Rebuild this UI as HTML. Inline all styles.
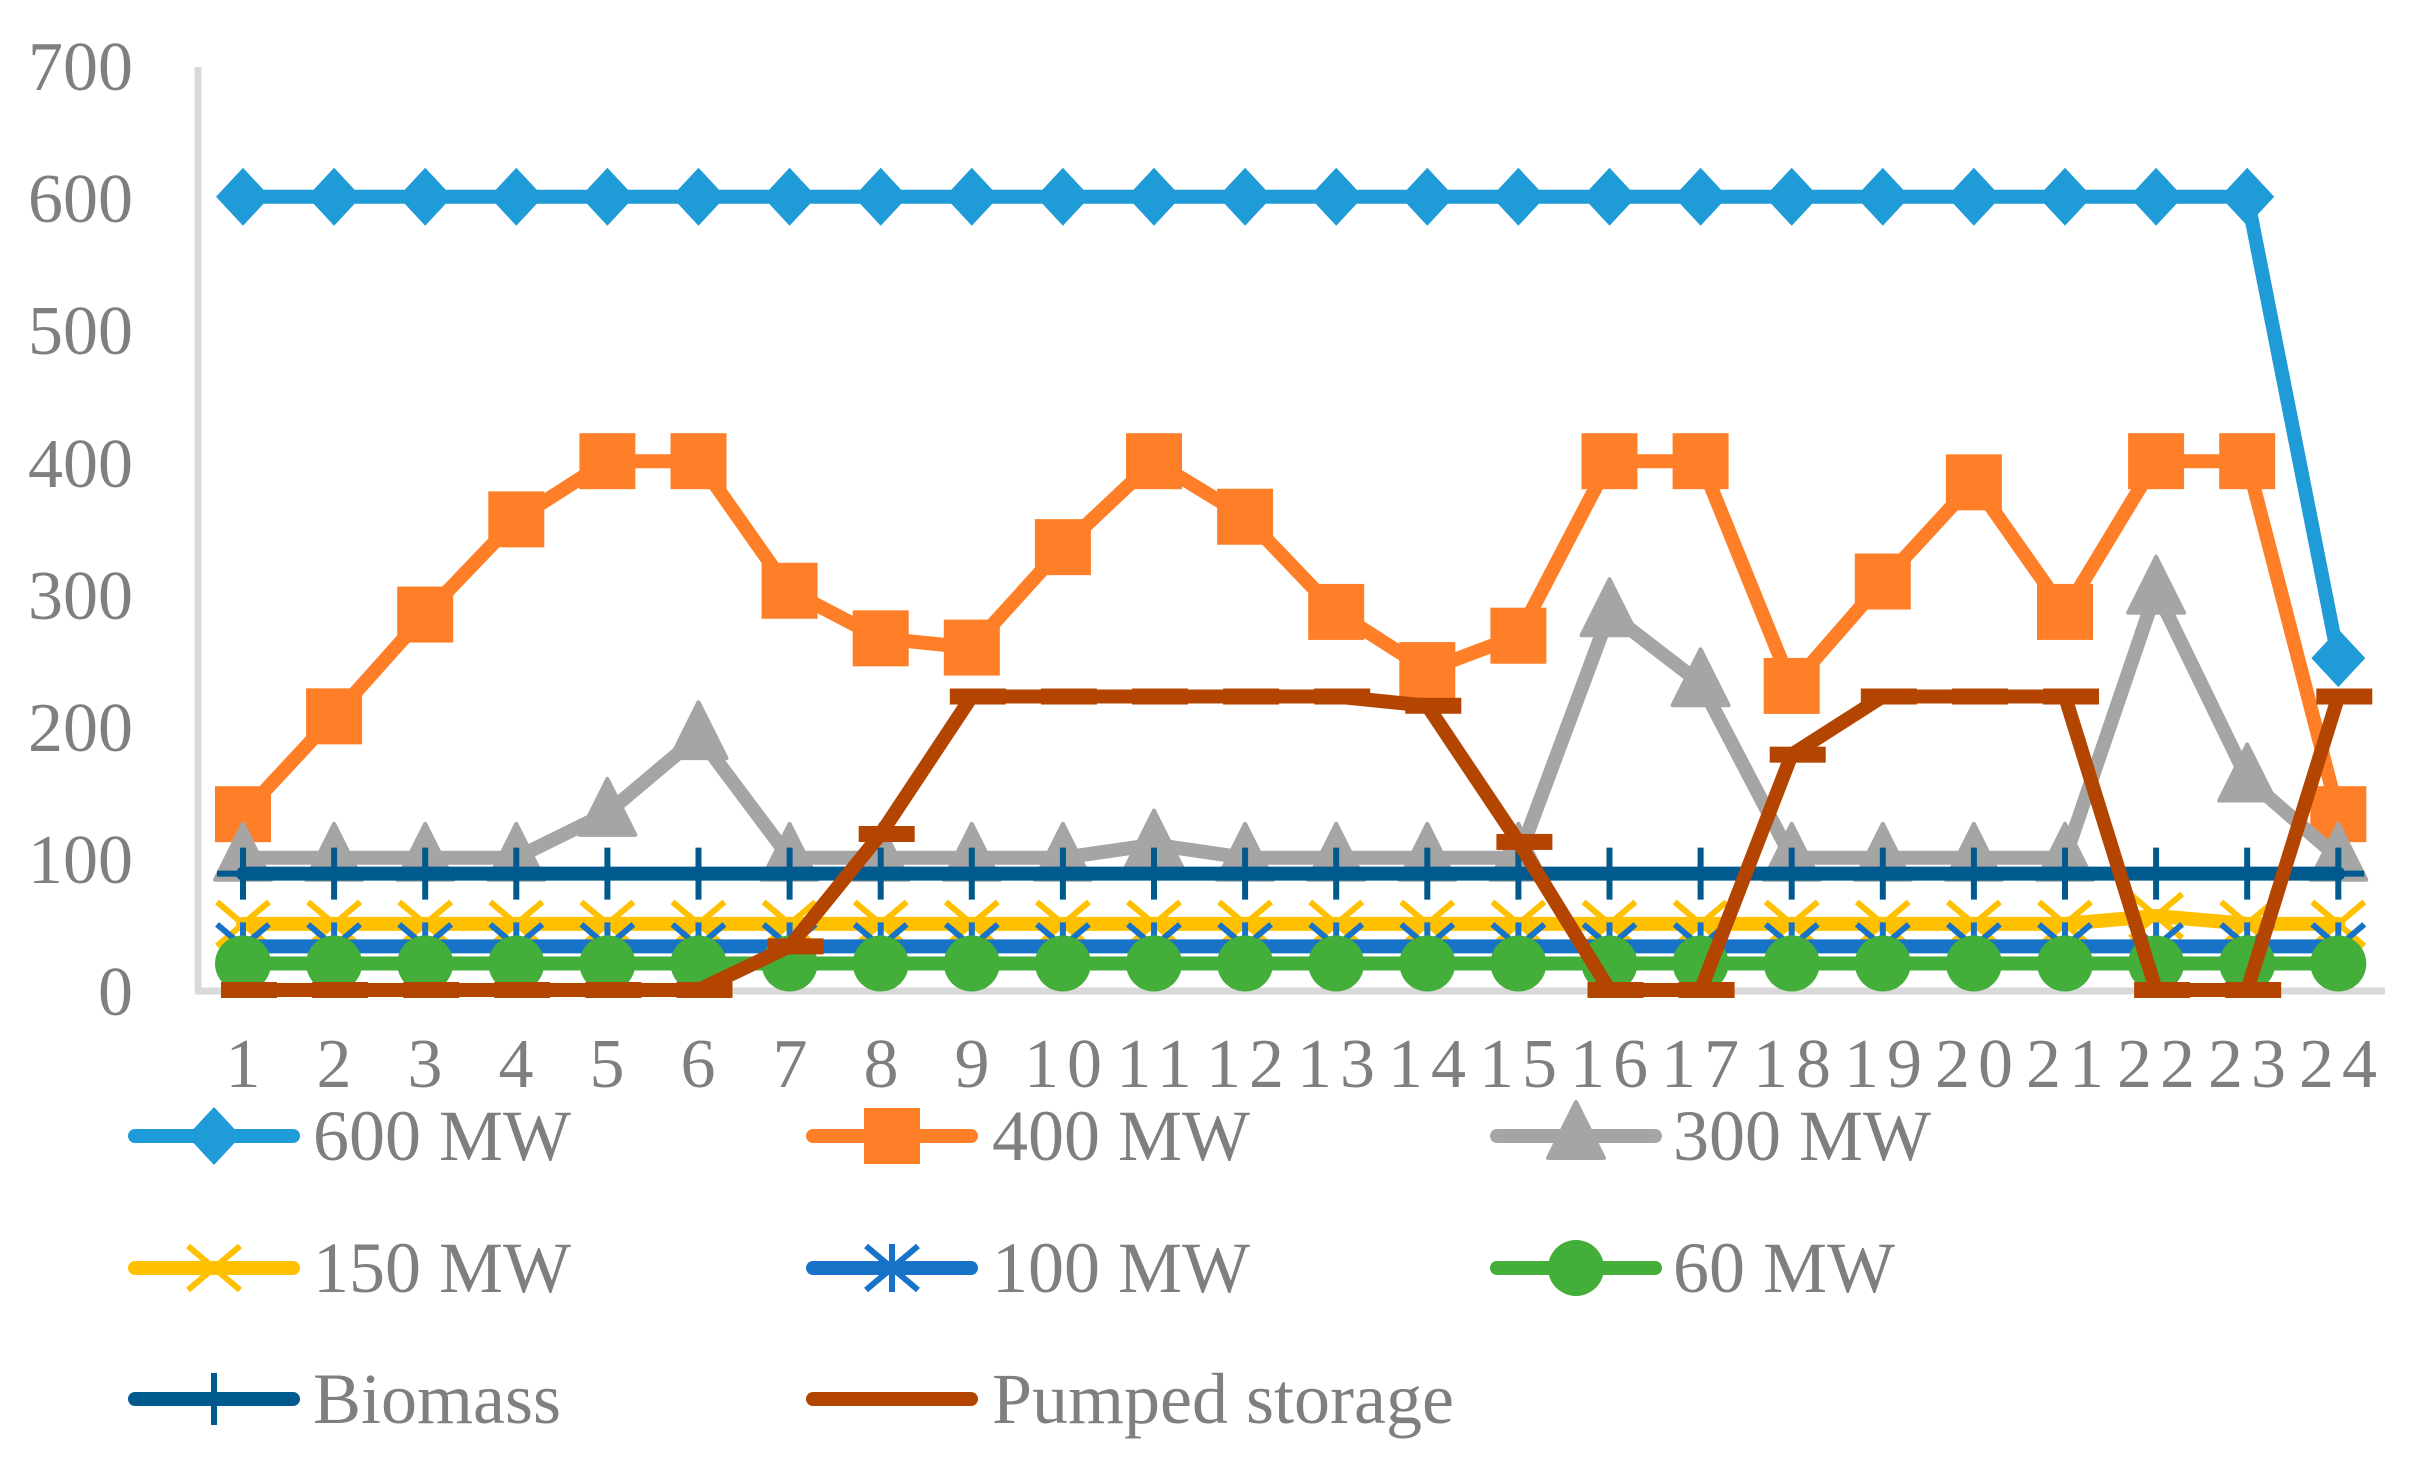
<!DOCTYPE html>
<html><head><meta charset="utf-8"><style>
html,body{margin:0;padding:0;background:#fff}
svg{display:block}
text{font-family:"Liberation Serif","Times New Roman","DejaVu Serif",serif;fill:#7F7F7F}
</style></head><body>
<svg id="c" width="2418" height="1459" xmlns="http://www.w3.org/2000/svg">
<line x1="198" y1="67" x2="198" y2="991" stroke="#D9D9D9" stroke-width="7"/>
<line x1="195" y1="991" x2="2385" y2="991" stroke="#D9D9D9" stroke-width="7"/>
<g font-size="70" text-anchor="end" font-family="Liberation Serif, serif" fill="#7F7F7F">
<text x="133" y="90">700</text><text x="133" y="222">600</text><text x="133" y="354">500</text>
<text x="133" y="487">400</text><text x="133" y="619">300</text><text x="133" y="751">200</text>
<text x="133" y="883">100</text><text x="133" y="1015">0</text>
</g>
<g id="xl" font-size="70" text-anchor="middle" letter-spacing="8" font-family="Liberation Serif, serif" fill="#7F7F7F">
<text x="247" y="1087">1</text><text x="338" y="1087">2</text><text x="429" y="1087">3</text><text x="520" y="1087">4</text>
<text x="611" y="1087">5</text><text x="702" y="1087">6</text><text x="794" y="1087">7</text><text x="885" y="1087">8</text>
<text x="976" y="1087">9</text><text x="1067" y="1087">10</text><text x="1158" y="1087">11</text><text x="1249" y="1087">12</text>
<text x="1340" y="1087">13</text><text x="1431" y="1087">14</text><text x="1522" y="1087">15</text><text x="1613" y="1087">16</text>
<text x="1704" y="1087">17</text><text x="1796" y="1087">18</text><text x="1887" y="1087">19</text><text x="1978" y="1087">20</text>
<text x="2069" y="1087">21</text><text x="2160" y="1087">22</text><text x="2251" y="1087">23</text><text x="2342" y="1087">24</text>
</g>
<g id="series"></g>
<g font-size="72" font-family="Liberation Serif, serif" fill="#7F7F7F">
<text x="313" y="1160">600 MW</text><text x="992" y="1160">400 MW</text><text x="1673" y="1160">300 MW</text>
<text x="313" y="1292">150 MW</text><text x="992" y="1292">100 MW</text><text x="1673" y="1292">60 MW</text>
<text x="313" y="1423">Biomass</text><text x="992" y="1423">Pumped storage</text>
</g>
<g id="leg"></g>
</svg>
<script>
var NS="http://www.w3.org/2000/svg";
function X(i){return 243+i*91.1}
function Y(v){return 990-v*1.322}
function el(p,t,a){var e=document.createElementNS(NS,t);for(var k in a)e.setAttribute(k,a[k]);p.appendChild(e);return e}
function marker(g,type,x,y,c){
 if(type=='d')el(g,'polygon',{points:(x-27)+','+y+' '+x+','+(y-29)+' '+(x+27)+','+y+' '+x+','+(y+29),fill:c});
 else if(type=='s')el(g,'rect',{x:x-28,y:y-28,width:56,height:56,fill:c});
 else if(type=='t')el(g,'polygon',{points:(x-28)+','+(y+22)+' '+x+','+(y-34)+' '+(x+28)+','+(y+22),fill:c,'stroke':c,'stroke-width':4,'stroke-linejoin':'round'});
 else if(type=='x'){el(g,'path',{d:'M'+(x-26)+' '+(y-22)+'L'+(x+26)+' '+(y+22)+'M'+(x+26)+' '+(y-22)+'L'+(x-26)+' '+(y+22),stroke:c,'stroke-width':6,fill:'none'});}
 else if(type=='*'){el(g,'path',{d:'M'+(x-26)+' '+(y-22)+'L'+(x+26)+' '+(y+22)+'M'+(x+26)+' '+(y-22)+'L'+(x-26)+' '+(y+22)+'M'+x+' '+(y-24)+'L'+x+' '+(y+24),stroke:c,'stroke-width':6,fill:'none'});}
 else if(type=='o')el(g,'ellipse',{cx:x,cy:y,rx:28,ry:28,fill:c});
 else if(type=='+')el(g,'path',{d:'M'+x+' '+(y-26)+'L'+x+' '+(y+26)+'M'+(x-26)+' '+y+'L'+(x+26)+' '+y,stroke:c,'stroke-width':6});
 else if(type=='-')el(g,'rect',{x:x-22,y:y-8,width:56,height:16,fill:c});
}
var S=[
 ['#1F9BD7','d',[600,600,600,600,600,600,600,600,600,600,600,600,600,600,600,600,600,600,600,600,600,600,600,251]],
 ['#FE7F27','s',[133,207,284,356,400,400,302,266,259,335,400,358,286,242,268,400,400,230,309,384,286,400,400,133]],
 ['#A5A5A5','t',[100,100,100,100,134,192,100,100,100,100,110,100,100,100,100,285,232,100,100,100,100,302,160,100]],
 ['#FFC000','x',[50,50,50,50,50,50,50,50,50,50,50,50,50,50,50,50,50,50,50,50,50,56,50,50]],
 ['#1773C8','*',[33,33,33,33,33,33,33,33,33,33,33,33,33,33,33,33,33,33,33,33,33,33,33,33]],
 ['#43AE3A','o',[20,20,20,20,20,20,20,20,20,20,20,20,20,20,20,20,20,20,20,20,20,20,20,20]],
 ['#005A8E','+',[88,88,88,88,88,88,88,88,88,88,88,88,88,88,88,88,88,88,88,88,88,88,88,88]],
 ['#B34500','-',[0,0,0,0,0,0,33,118,222,222,222,222,222,215,112,0,0,178,222,222,222,0,0,222]]
];
var g=document.getElementById('series');
S.forEach(function(s){
 var pts=s[2].map(function(v,i){return X(i)+','+Y(v)}).join(' ');
 el(g,'polyline',{points:pts,fill:'none',stroke:s[0],'stroke-width':14,'stroke-linejoin':'round','stroke-linecap':'round'});
 s[2].forEach(function(v,i){marker(g,s[1],X(i),Y(v),s[0])});
});
var L=document.getElementById('leg');
var pos=[[128,1136],[806,1136],[1490,1136],[128,1268],[806,1268],[1490,1268],[128,1399],[806,1399]];
S.forEach(function(s,i){
 var x=pos[i][0],y=pos[i][1];
 el(L,'line',{x1:x+7,y1:y,x2:x+165,y2:y,stroke:s[0],'stroke-width':14,'stroke-linecap':'round'});
 if(s[1]!='-')marker(L,s[1],x+86,y,s[0]);
});
</script>
</body></html>
